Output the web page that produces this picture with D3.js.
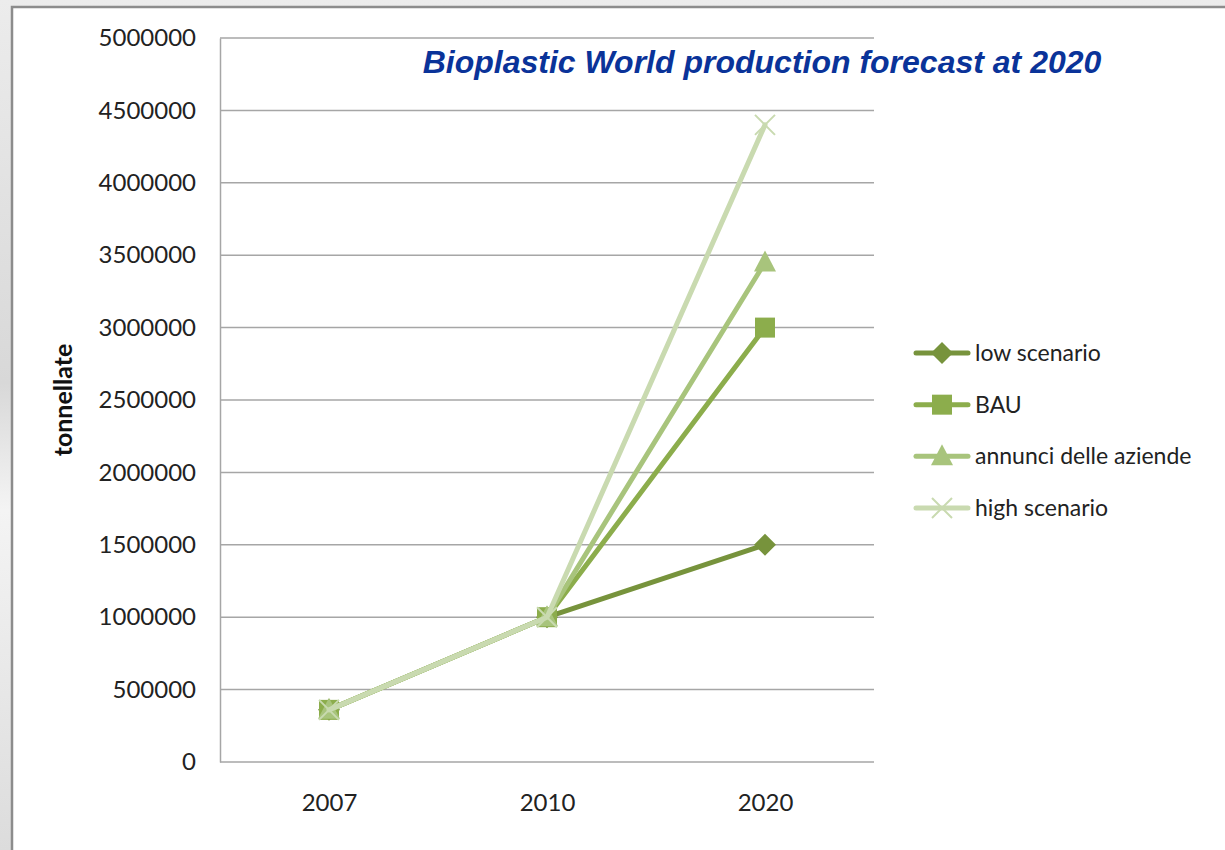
<!DOCTYPE html>
<html><head><meta charset="utf-8">
<script src="https://cdn.jsdelivr.net/npm/d3@7/dist/d3.min.js"></script>
<style>
html,body{margin:0;padding:0;background:#fff;}
svg{display:block;}
</style></head>
<body>
<svg id="chart" width="1225" height="850"></svg>
<script>
const years = ["2007", "2010", "2020"];
const seriesNames = ["low scenario", "BAU", "annunci delle aziende", "high scenario"];
const lowScenario = [360000, 1000000, 1500000];
const bau = [360000, 1000000, 3000000];
const annunci = [360000, 1000000, 3450000];
const highScenario = [360000, 1000000, 4400000];
const yTicks = [0, 500000, 1000000, 1500000, 2000000, 2500000, 3000000, 3500000, 4000000, 4500000, 5000000];
const titleText = "Bioplastic World production forecast at 2020";
const yLabel = "tonnellate";

const seriesValues = [lowScenario, bau, annunci, highScenario];
const colors = ["#77933c", "#8cad4c", "#a8c47c", "#c9dab0"];
const markers = ["diamond", "square", "triangle", "x"];

const svg = d3.select("#chart");
const W = 1225, H = 850;

// background frame
const defs = svg.append("defs");
const g1 = defs.append("linearGradient").attr("id","bg").attr("x1","0").attr("y1","0").attr("x2","0").attr("y2","1");
g1.append("stop").attr("offset","0").attr("stop-color","#ececec");
g1.append("stop").attr("offset","0.45").attr("stop-color","#d8d8d8");
g1.append("stop").attr("offset","0.6").attr("stop-color","#f4f4f4");
g1.append("stop").attr("offset","1").attr("stop-color","#dcdcdc");
svg.append("rect").attr("x",0).attr("y",0).attr("width",W).attr("height",H).attr("fill","url(#bg)");
svg.append("rect").attr("x",12).attr("y",7).attr("width",W).attr("height",H).attr("fill","#fff")
  .attr("stroke","#8c8c8c").attr("stroke-width",2.5);

const plot = {left:220, top:38, right:874, bottom:762};

const x = d3.scalePoint().domain(years).range([plot.left, plot.right]).padding(0.5);
const y = d3.scaleLinear().domain([0, 5000000]).range([plot.bottom, plot.top]);

// gridlines
svg.append("g").selectAll("line").data(yTicks).join("line")
  .attr("x1", plot.left).attr("x2", plot.right)
  .attr("y1", d => y(d)).attr("y2", d => y(d))
  .attr("stroke", "#a6a6a6").attr("stroke-width", 1.5);

// y axis
const yAxis = d3.axisLeft(y).tickValues(yTicks).tickFormat(d3.format("d")).tickSize(0).tickPadding(24);
const ya = svg.append("g").attr("transform", `translate(${plot.left},0)`).call(yAxis);
ya.select(".domain").attr("stroke", "#a6a6a6").attr("stroke-width", 1.5);
ya.selectAll("text").attr("font-family", "Lato, 'Open Sans', sans-serif").attr("font-size", 24).attr("fill", "#222");

// x axis
const xAxis = d3.axisBottom(x).tickSize(0).tickPadding(32);
const xa = svg.append("g").attr("transform", `translate(0,${plot.bottom})`).call(xAxis);
xa.select(".domain").remove();
xa.selectAll("text").attr("font-family", "Lato, 'Open Sans', sans-serif").attr("font-size", 24).attr("fill", "#222");

// y label
svg.append("text").attr("transform", `translate(72,400) rotate(-90)`).attr("text-anchor","middle")
  .attr("font-family","Lato, 'Open Sans', sans-serif").attr("font-weight","bold").attr("font-size",25)
  .attr("fill","#111").text(yLabel);

function drawMarker(g, type, cx, cy, color) {
  if (type === "diamond") {
    const s = 11;
    g.append("path").attr("d", `M${cx},${cy-s}L${cx+s},${cy}L${cx},${cy+s}L${cx-s},${cy}Z`).attr("fill", color);
  } else if (type === "square") {
    const s = 10;
    g.append("rect").attr("x", cx-s).attr("y", cy-s).attr("width", 2*s).attr("height", 2*s).attr("fill", color);
  } else if (type === "triangle") {
    const s = 11;
    g.append("path").attr("d", `M${cx},${cy-s-1}L${cx+s},${cy+s-2}L${cx-s},${cy+s-2}Z`).attr("fill", color);
  } else {
    const s = 10;
    g.append("path").attr("d", `M${cx-s},${cy-s}L${cx+s},${cy+s}M${cx+s},${cy-s}L${cx-s},${cy+s}`)
      .attr("stroke", color).attr("stroke-width", 2).attr("fill","none");
  }
}

const line = d3.line().x((d,i) => x(years[i])).y(d => y(d));

seriesValues.forEach((vals, si) => {
  const g = svg.append("g");
  g.append("path").attr("d", line(vals)).attr("fill","none").attr("stroke", colors[si])
    .attr("stroke-width", 5).attr("stroke-linejoin","round").attr("stroke-linecap","round");
  vals.forEach((v, i) => drawMarker(g, markers[si], x(years[i]), y(v), colors[si]));
});

// legend
const legY = d3.scalePoint().domain(seriesNames).range([353, 508]);
seriesNames.forEach((name, si) => {
  const g = svg.append("g");
  const ly = legY(name);
  g.append("line").attr("x1", 916).attr("x2", 968).attr("y1", ly).attr("y2", ly)
    .attr("stroke", colors[si]).attr("stroke-width", 5).attr("stroke-linecap","round");
  drawMarker(g, markers[si], 942, ly, colors[si]);
  g.append("text").attr("x", 975).attr("y", ly).attr("dy", "0.35em")
    .attr("font-family","Lato, 'Open Sans', sans-serif").attr("font-size", 23).attr("fill","#222").text(name);
});

// title
svg.append("text").attr("x", 762).attr("y", 73).attr("text-anchor","middle")
  .attr("font-family","'Liberation Sans', Arial, sans-serif").attr("font-weight","bold").attr("font-style","italic")
  .attr("font-size", 32).attr("fill", "#0a3399").text(titleText);
</script>
</body></html>
